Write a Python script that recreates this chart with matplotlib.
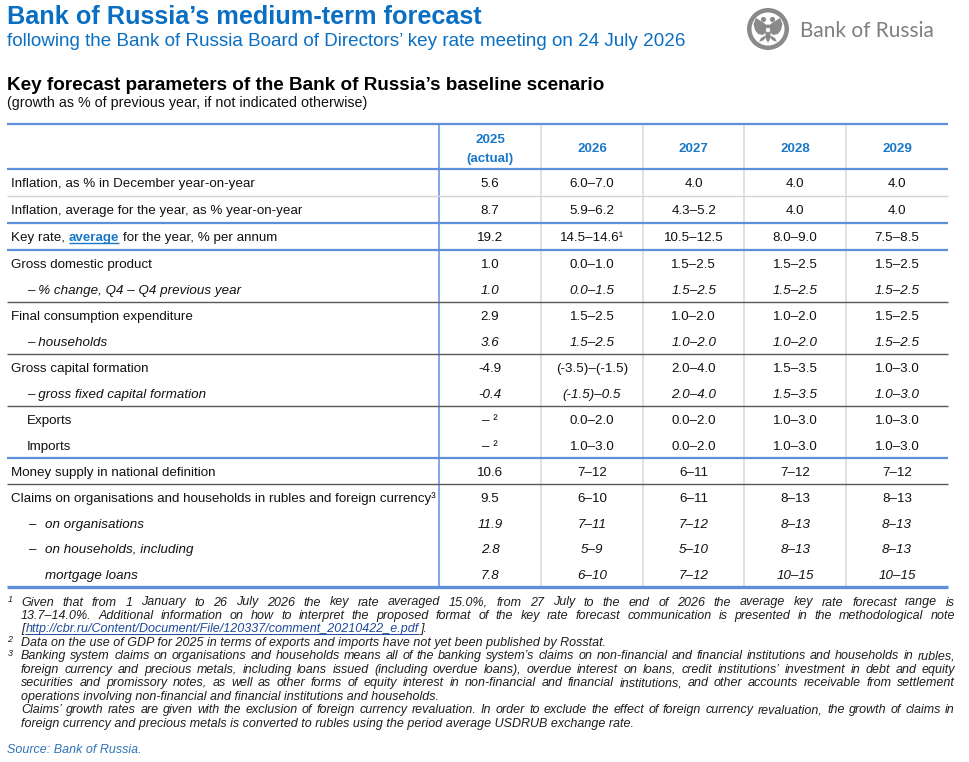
import matplotlib.pyplot as plt
from matplotlib.patches import Circle, Polygon, Ellipse

# ---- table content ----
years = ['2025', '2026', '2027', '2028', '2029']
year_notes = ['(actual)', '', '', '', '']

labels = [
    'Inflation, as % in December year-on-year',
    'Inflation, average for the year, as % year-on-year',
    'Key rate, average for the year, % per annum',
    'Gross domestic product',
    '– % change, Q4 – Q4 previous year',
    'Final consumption expenditure',
    '– households',
    'Gross capital formation',
    '– gross fixed capital formation',
    'Exports',
    'Imports',
    'Money supply in national definition',
    'Claims on organisations and households in rubles and foreign currency³',
    '– on organisations',
    '– on households, including',
    'mortgage loans',
]

v2025 = ['5.6', '8.7', '19.2', '1.0', '1.0', '2.9', '3.6', '-4.9', '-0.4',
         '– ²', '– ²', '10.6', '9.5', '11.9', '2.8', '7.8']
v2026 = ['6.0–7.0', '5.9–6.2', '14.5–14.6¹', '0.0–1.0', '0.0–1.5', '1.5–2.5',
         '1.5–2.5', '(-3.5)–(-1.5)', '(-1.5)–0.5', '0.0–2.0', '1.0–3.0',
         '7–12', '6–10', '7–11', '5–9', '6–10']
v2027 = ['4.0', '4.3–5.2', '10.5–12.5', '1.5–2.5', '1.5–2.5', '1.0–2.0',
         '1.0–2.0', '2.0–4.0', '2.0–4.0', '0.0–2.0', '0.0–2.0',
         '6–11', '6–11', '7–12', '5–10', '7–12']
v2028 = ['4.0', '4.0', '8.0–9.0', '1.5–2.5', '1.5–2.5', '1.0–2.0',
         '1.0–2.0', '1.5–3.5', '1.5–3.5', '1.0–3.0', '1.0–3.0',
         '7–12', '8–13', '8–13', '8–13', '10–15']
v2029 = ['4.0', '4.0', '7.5–8.5', '1.5–2.5', '1.5–2.5', '1.5–2.5',
         '1.5–2.5', '1.0–3.0', '1.0–3.0', '1.0–3.0', '1.0–3.0',
         '7–12', '8–13', '8–13', '8–13', '10–15']
columns = [v2025, v2026, v2027, v2028, v2029]

fn1 = ['Given that from 1 January to 26 July 2026 the key rate averaged 15.0%, from 27 July to the end of 2026 the average key rate forecast range is',
       '13.7–14.0%. Additional information on how to interpret the proposed format of the key rate forecast communication is presented in the methodological note']
fn1_url = 'http://cbr.ru/Content/Document/File/120337/comment_20210422_e.pdf'
fn2 = ['Data on the use of GDP for 2025 in terms of exports and imports have not yet been published by Rosstat.']
fn3 = ['Banking system claims on organisations and households means all of the banking system’s claims on non-financial and financial institutions and households in rubles,',
       'foreign currency and precious metals, including loans issued (including overdue loans), overdue interest on loans, credit institutions’ investment in debt and equity',
       'securities and promissory notes, as well as other forms of equity interest in non-financial and financial institutions, and other accounts receivable from settlement',
       'operations involving non-financial and financial institutions and households.',
       'Claims’ growth rates are given with the exclusion of foreign currency revaluation. In order to exclude the effect of foreign currency revaluation, the growth of claims in',
       'foreign currency and precious metals is converted to rubles using the period average USDRUB exchange rate.']

# ---- styling / layout ----
italic_rows = [4, 6, 8, 13, 14, 15]
indent = [0, 0, 0, 0, 1, 0, 1, 0, 1, 1, 1, 0, 0, 2, 2, 3]
row_h = [27, 27, 27] + [26] * 11 + [25.5, 25.5]
# separator after row i: 'light', 'blue', 'dark'
seps = {0: 'light', 1: 'blue', 2: 'blue', 4: 'dark', 6: 'dark', 8: 'dark',
        10: 'blue', 11: 'dark'}

BLUE_T = '#0A6FC2'
BLUE_H = '#1A78C8'
BLUE_L = '#5E8FDA'
TXT = '#111111'
FONT = 'Liberation Sans'

plt.rcParams['font.family'] = [FONT, 'DejaVu Sans']

fig = plt.figure(figsize=(9.69, 7.62), dpi=100)
ax = fig.add_axes([0, 0, 1, 1])
ax.set_xlim(0, 969)
ax.set_ylim(762, 0)
ax.axis('off')
renderer = fig.canvas.get_renderer()


def text_w(s, **kw):
    t = ax.text(0, 0, s, **kw)
    w = t.get_window_extent(renderer).width
    t.remove()
    return w


# ---- titles ----
ax.text(7, 24.5, 'Bank of Russia’s medium-term forecast', fontsize=18.2,
        fontweight='bold', color=BLUE_T, va='baseline')
ax.text(7, 46, 'following the Bank of Russia Board of Directors’ key rate meeting on 24 July 2026',
        fontsize=13.6, color=BLUE_T, va='baseline')
ax.text(7, 90.5, 'Key forecast parameters of the Bank of Russia’s baseline scenario',
        fontsize=13.6, fontweight='bold', color='black', va='baseline')
ax.text(7, 107.5, '(growth as % of previous year, if not indicated otherwise)',
        fontsize=10.3, color=TXT, va='baseline')

# ---- logo ----
cx, cy = 768, 29
ax.add_patch(Circle((cx, cy), 21, color='#8A8A8A', lw=0))
ax.add_patch(Circle((cx, cy), 16.5, color='white', lw=0))
for s in (-1, 1):
    wing = [(0, -3), (s * 4, -6), (s * 12, -11), (s * 14.5, -5), (s * 13, 1),
            (s * 10, 5), (s * 5, 6), (s * 2, 3)]
    ax.add_patch(Polygon([(cx + a, cy + b) for a, b in wing], closed=True,
                         color='#8A8A8A', lw=0))
    ax.add_patch(Circle((cx + s * 4.5, cy - 9.5), 2.6, color='#8A8A8A', lw=0))
    leg = [(s * 1.5, 6), (s * 7, 9), (s * 9, 13), (s * 4, 11)]
    ax.add_patch(Polygon([(cx + a, cy + b) for a, b in leg], closed=True,
                         color='#8A8A8A', lw=0))
ax.add_patch(Ellipse((cx, cy + 2), 6, 13, color='#8A8A8A', lw=0))
ax.add_patch(Polygon([(cx - 3.5, cy + 7), (cx + 3.5, cy + 7), (cx, cy + 14)],
                     closed=True, color='#8A8A8A', lw=0))
ax.add_patch(Circle((cx, cy + 1), 2.2, color='white', lw=0))
ax.text(800, 37, 'Bank of Russia', fontsize=15.0, family=['Lato', 'DejaVu Sans'],
        color='#7F7F7F', va='baseline')

# ---- table grid ----
x_left, x_right = 7, 948
col_edges = [439, 541, 643, 744.5, 846, 948]
top, head_bot = 124, 169
row_edges = [head_bot]
for h in row_h:
    row_edges.append(row_edges[-1] + h)
bottom = row_edges[-1]

for i, xe in enumerate(col_edges[:-1]):
    if i == 0:
        ax.vlines(xe, top, bottom, color=BLUE_L, lw=1.1)
    else:
        ax.vlines(xe, top, bottom, color='#D9D9D9', lw=1.1)

ax.hlines(top, x_left, x_right, color=BLUE_L, lw=1.6)
ax.hlines(head_bot, x_left, x_right, color=BLUE_L, lw=1.6)
for i, kind in seps.items():
    y = row_edges[i + 1]
    if kind == 'blue':
        ax.hlines(y, x_left, x_right, color=BLUE_L, lw=1.6)
    elif kind == 'dark':
        ax.hlines(y, x_left, x_right, color='#595959', lw=1.0)
    else:
        ax.hlines(y, x_left, x_right, color='#D4D4D4', lw=1.0)
ax.hlines(bottom, x_left, x_right, color=BLUE_L, lw=2.4)

# ---- header ----
centers = [(col_edges[i] + col_edges[i + 1]) / 2 for i in range(5)]
for c, yr, note in zip(centers, years, year_notes):
    if note:
        ax.text(c, 143, yr, ha='center', va='baseline', fontsize=9.6,
                fontweight='bold', color=BLUE_H)
        ax.text(c, 162, note, ha='center', va='baseline', fontsize=9.6,
                fontweight='bold', color=BLUE_H)
    else:
        ax.text(c, 152.5, yr, ha='center', va='baseline', fontsize=9.6,
                fontweight='bold', color=BLUE_H)

# ---- body ----
FS = 9.6
sp_w = text_w('a a', fontsize=FS) - text_w('aa', fontsize=FS)
for r, lab in enumerate(labels):
    yb = (row_edges[r] + row_edges[r + 1]) / 2 + 4.7
    style = 'italic' if r in italic_rows else 'normal'
    if r == 2:
        pre, post = 'Key rate,', 'for the year, % per annum'
        ax.text(11, yb, pre, fontsize=FS, color=TXT, va='baseline')
        x = 11 + text_w(pre, fontsize=FS) + sp_w
        ax.text(x, yb, 'average', fontsize=FS, fontweight='bold',
                color=BLUE_H, va='baseline')
        w = text_w('average', fontsize=FS, fontweight='bold')
        ax.hlines(yb + 2, x, x + w, color=BLUE_H, lw=1.0)
        ax.text(x + w + sp_w, yb, post, fontsize=FS, color=TXT, va='baseline')
    elif indent[r] == 2:
        dash, rest = lab.split(' ', 1)
        ax.text(28, yb, dash, fontsize=FS, style=style, color=TXT, va='baseline')
        ax.text(45, yb, rest, fontsize=FS, style=style, color=TXT, va='baseline')
    else:
        x = {0: 11, 1: 27, 3: 45}[indent[r]]
        ax.text(x, yb, lab, fontsize=FS, style=style, color=TXT, va='baseline')
    for c, col in zip(centers, columns):
        ax.text(c, yb, col[r], ha='center', va='baseline', fontsize=FS,
                style=style, color=TXT)

# ---- footnotes ----
FN = 9.0
fkw = dict(fontsize=FN, style='italic', color='#1E1E1E', va='baseline')
x0, x1 = 21, 955


def justify(y, line):
    words = line.split(' ')
    ws = [text_w(w, **fkw) for w in words]
    gap = (x1 - x0 - sum(ws)) / (len(words) - 1)
    x = x0
    for w, wd in zip(words, ws):
        ax.text(x, y, w, **fkw)
        x += wd + gap


def mark(y, s):
    ax.text(7.5, y - 3.5, s, fontsize=6.5, style='italic', color='#1E1E1E',
            va='baseline')


step = 13.45
y = 605.5
mark(y, '1')
for line in fn1:
    justify(y, line)
    y += step
ax.text(x0, y, '[', **fkw)
xu = x0 + text_w('[', **fkw) + 1
ax.text(xu, y, fn1_url, fontsize=FN, style='italic', color='#1F4A9C', va='baseline')
wu = text_w(fn1_url, **fkw)
ax.hlines(y + 1.8, xu, xu + wu, color='#1F4A9C', lw=0.7)
ax.text(xu + wu + 1, y, '].', **fkw)
y += step
mark(y, '2')
ax.text(x0, y, fn2[0], **fkw)
y += step
mark(y, '3')
last = {3, 5}
for i, line in enumerate(fn3):
    if i in last:
        ax.text(x0, y, line, **fkw)
    else:
        justify(y, line)
    y += step

ax.text(7, 753, 'Source: Bank of Russia.', fontsize=FN, style='italic',
        color='#2E75B6', va='baseline')

fig.savefig('out.png', dpi=100)
